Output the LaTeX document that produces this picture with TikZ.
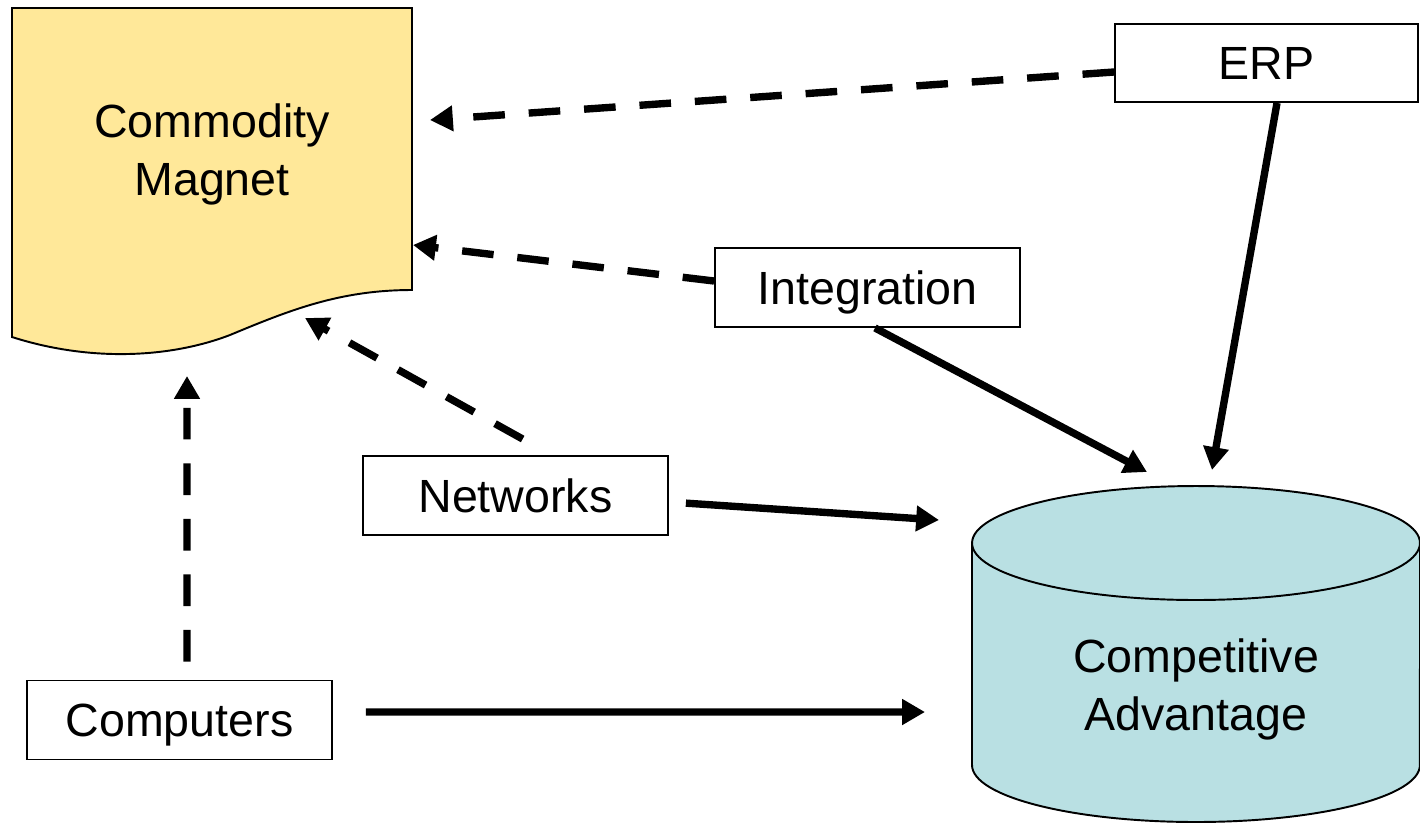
\documentclass[tikz,border=0pt]{standalone}
\usepackage{fontspec}
\setmainfont{Liberation Sans}
\usetikzlibrary{arrows.meta}
\usetikzlibrary{calc}
\usetikzlibrary{positioning}

\definecolor{magnetYellow}{RGB}{255,232,153}
\definecolor{advTeal}{RGB}{185,224,227}

\begin{document}
\begin{tikzpicture} [
        x = 0.02cm,
        y = -0.02cm,
        every node/.style = {
          align = center,
          font = \fontsize{26.5}{33}\selectfont,
        },
        termbox/.style = {
          draw,
          line width = 1.1pt,
          minimum width = 6.1cm,
          minimum height = 1.58cm,
          text height = 19pt,
          text depth = 0pt,
        },
        outline/.style = {
          draw,
          line width = 1.1pt,
        },
        solidarrow/.style = {
          draw,
          line width = 4.2pt,
          -{Triangle[length=13pt, width=14pt]},
        },
        dasharrow/.style = {
          solidarrow,
          dash pattern = on 18pt off 13.6pt,
        },
      ]
    \useasboundingbox (0,0) rectangle (1420,823);

    % document shape
    \path[outline, fill=magnetYellow] (12,8) -- (412,8) -- (412,290)
      .. controls (340,290) and (290,310) .. (230,335)
      .. controls (170,358) and (90,362) .. (12,337) -- cycle;
    \node (magnet) at (212,154) {Commodity\\Magnet};

    % cylinder
    \path[outline, fill=advTeal] (972,543) -- (972,765)
      arc [start angle=180, end angle=360, x radius=4.48cm, y radius=1.14cm]
      -- (1420,543) -- cycle;
    \path[outline, fill=advTeal] (1196,543) ellipse [x radius=4.48cm, y radius=1.14cm];
    \node (adv) at (1196,689) {Competitive\\Advantage};

    % textboxes
    \node [termbox, minimum width = 6.06cm, minimum height = 1.56cm] at (1266.5,63) (erp) {ERP};
    \node [termbox] at (867.5,287.5) (integ) {Integration};
    \node [termbox] at (515.5,495.5) (netw) {Networks};
    \node [termbox] at (179.5,720) (comp) {Computers};

    % arrow ends
    \coordinate (magnetIn1) at (430,120);
    \coordinate (magnetIn2) at (413,245);
    \coordinate (magnetIn3) at (305,318);
    \coordinate (magnetIn4) at (187,376);
    \coordinate (advIn1) at (1147,472);
    \coordinate (advIn2) at (1212,470);
    \coordinate (advIn3) at (939,520);
    \coordinate (advIn4) at (925,712);

    \draw[dasharrow] ([yshift=-0.18cm]erp.west) -- (magnetIn1);
    \draw[dasharrow] ([yshift=0.13cm]integ.west) -- (magnetIn2);
    \draw[dasharrow, shorten <= 0.66cm] ([xshift=0.72cm]netw.north) -- (magnetIn3);
    \draw[dasharrow, shorten <= 0.36cm] ([xshift=0.15cm]comp.north) -- (magnetIn4);

    \draw[solidarrow] ([xshift=0.15cm]integ.south) -- (advIn1);
    \draw[solidarrow] ([xshift=0.21cm]erp.south) -- (advIn2);
    \draw[solidarrow, shorten <= 0.34cm] ([yshift=-0.13cm]netw.east) -- (advIn3);
    \draw[solidarrow, shorten <= 0.66cm] ([yshift=0.16cm]comp.east) -- (advIn4);
  \end{tikzpicture}
\end{document}
